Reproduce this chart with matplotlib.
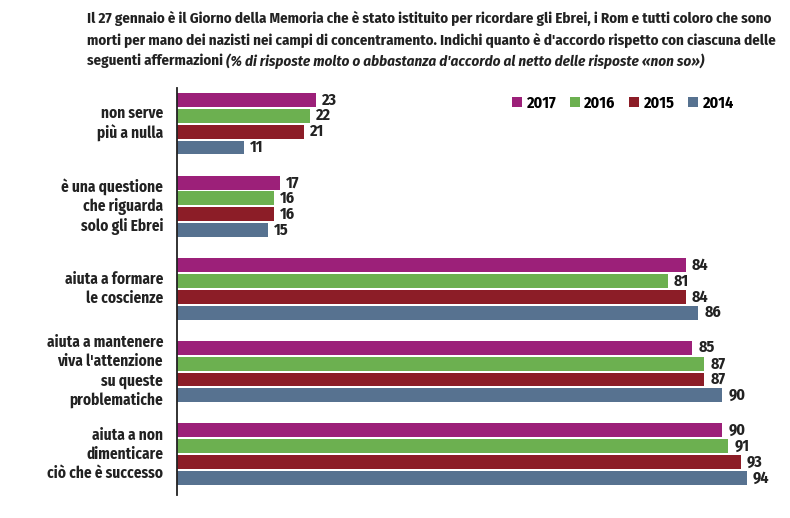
import matplotlib

matplotlib.use("Agg")
import matplotlib.pyplot as plt  # noqa: E402
import numpy as np  # noqa: E402
from matplotlib.patches import Patch  # noqa: E402

plt.rcParams["font.family"] = ["Fira Sans Condensed", "DejaVu Sans"]

categories = [
    "non serve\npiù a nulla",
    "è una questione\nche riguarda\nsolo gli Ebrei",
    "aiuta a formare\nle coscienze",
    "aiuta a mantenere\nviva l'attenzione\nsu queste\nproblematiche",
    "aiuta a non\ndimenticare\nciò che è successo",
]
years = ["2017", "2016", "2015", "2014"]
v2017 = [23, 17, 84, 85, 90]
v2016 = [22, 16, 81, 87, 91]
v2015 = [21, 16, 84, 87, 93]
v2014 = [11, 15, 86, 90, 94]
series = [v2017, v2016, v2015, v2014]
colors = ["#9c2079", "#6cb050", "#8c1d27", "#577290"]

title_lines = [
    "Il 27 gennaio è il Giorno della Memoria che è stato istituito per ricordare gli Ebrei, i Rom e tutti coloro che sono",
    "morti per mano dei nazisti nei campi di concentramento. Indichi quanto è d'accordo rispetto con ciascuna delle",
    "seguenti affermazioni ",
]
title_italic = "(% di risposte molto o abbastanza d'accordo al netto delle risposte «non so»)"

fig = plt.figure(figsize=(7.9, 5.18), dpi=100)
ax = fig.add_axes([177 / 790, 1 - 495 / 518, 606 / 790, (495 - 88) / 518])

group_pitch = 5.22
bar_h = 0.88
for i, (vals, col, yr) in enumerate(zip(series, colors, years)):
    pos = np.arange(len(categories)) * group_pitch + i
    ax.barh(pos, vals, height=bar_h, color=col, label=yr)
    for p, v in zip(pos, vals):
        ax.text(v + 1.0, p, str(v), va="center", ha="left", fontsize=11.5,
                fontweight="bold", color="#222222")

centers = np.arange(len(categories)) * group_pitch + 1.5
for c, lab in zip(centers, categories):
    ax.text(-2.3, c, lab, ha="right", va="center", fontsize=11,
            fontweight="bold", color="#222222", linespacing=1.25)

ax.set_xlim(0, 100)
ax.set_ylim(4 * group_pitch + 3 + 1.08, -0.76)
ax.set_xticks([])
ax.set_yticks([])
for s in ["top", "right", "bottom"]:
    ax.spines[s].set_visible(False)
ax.spines["left"].set_linewidth(1.3)
ax.spines["left"].set_color("#222222")

handles = [Patch(facecolor=c, label=y) for c, y in zip(colors, years)]
fig.legend(handles=handles, ncol=4, loc="center right",
           bbox_to_anchor=(745 / 790, 1 - 103 / 518), frameon=False,
           handlelength=0.6, handleheight=0.6, handletextpad=0.3,
           columnspacing=0.85, borderpad=0.2, prop={"weight": "bold", "size": 11.5})

line_y = [18, 40, 61]
last = None
for ly, line in zip(line_y, title_lines):
    last = fig.text(87 / 790, 1 - ly / 518, line, ha="left", va="center",
                    fontsize=10.8, fontweight="bold", color="#222222")
fig.canvas.draw()
bb = last.get_window_extent()
fig.text(bb.x1 / 790, 1 - line_y[2] / 518, title_italic, ha="left", va="center",
         fontsize=10.8, fontweight="bold", style="italic", color="#222222")

fig.savefig("out.png", dpi=100)
